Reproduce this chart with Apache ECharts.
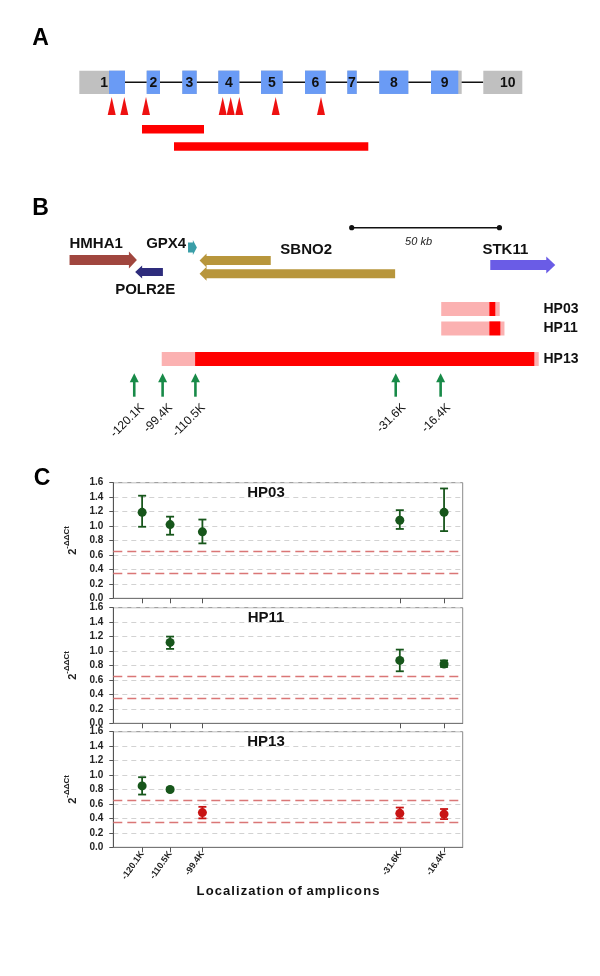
<!DOCTYPE html>
<html>
<head>
<meta charset="utf-8">
<script src="https://cdn.jsdelivr.net/npm/echarts@6/dist/echarts.min.js"></script>
<style>
html, body { margin: 0; padding: 0; background: #fff; }
#main { width: 600px; height: 976px; }
</style>
</head>
<body>
<div id="main"></div>
<script>
// ---- panel A: exon structure (relative units along the transcript) ----
var exonNames   = ['1', '2', '3', '4', '5', '6', '7', '8', '9', '10'];
var exonStart   = [39.3, 106.7, 142.3, 178.3, 221, 265, 307.3, 339.3, 391, 443.3];
var exonEnd     = [85, 120, 156.7, 199.3, 242.7, 285.7, 316.7, 368.3, 421.7, 482.3];
var codingStart = [69, 106.7, 142.3, 178.3, 221, 265, 307.3, 339.3, 391, null];
var codingEnd   = [85, 120, 156.7, 199.3, 242.7, 285.7, 316.7, 368.3, 418.3, null];
var mutationPos = [71.7, 84.3, 106, 182.7, 190.7, 199.3, 235.7, 281];
var deletionStart = [102, 134];
var deletionEnd   = [164, 328.3];

// ---- panel B: genomic region (kb relative to STK11) ----
var geneNames  = ['HMHA1', 'POLR2E', 'GPX4', 'SBNO2', 'SBNO2', 'STK11'];
var geneStart  = [-142.0, -119.8, -101.9, -98.0, -98.0, 0.4];
var geneEnd    = [-119.2, -110.4, -98.9, -73.9, -31.8, 22.4];
var geneStrand = ['+', '-', '+', '-', '-', '+'];
var hpNames      = ['HP03', 'HP11', 'HP13'];
var hpOuterStart = [-16.2, -16.2, -110.8];
var hpOuterEnd   = [3.6, 5.2, 16.8];
var hpCoreStart  = [0.1, 0.1, -99.5];
var hpCoreEnd    = [2.1, 3.8, 15.3];
var scaleBarKb   = [-46.5, 3.5];
var ampliconKb      = [-120.1, -110.5, -99.4, -31.6, -16.4];
var ampliconLabelsB = ['-120.1K', '-99.4K', '-110.5K', '-31.6K', '-16.4K'];
var ampliconLabelsC = ['-120.1K', '-110.5K', '-99.4K', '-31.6K', '-16.4K'];

// ---- panel C: 2^-ddCt per amplicon ----
var thresholds = [0.35, 0.65];
var hp03Mean = [1.19, 1.02, 0.92, 1.08, 1.19];
var hp03Lo   = [0.99, 0.88, 0.76, 0.96, 0.93];
var hp03Hi   = [1.42, 1.13, 1.09, 1.22, 1.52];
var hp11Mean = [null, 1.12, null, 0.87, 0.82];
var hp11Lo   = [null, 1.03, null, 0.72, 0.78];
var hp11Hi   = [null, 1.20, null, 1.02, 0.87];
var hp13Mean = [0.85, 0.80, 0.48, 0.47, 0.46];
var hp13Lo   = [0.73, 0.78, 0.40, 0.40, 0.39];
var hp13Hi   = [0.97, 0.82, 0.56, 0.55, 0.53];
var hp13Deleted = [false, false, true, true, true];

var FONT = '"Liberation Sans", Arial, sans-serif';
var GREEN = '#17561B', RED = '#C81414';
var geneColors = ['#A0463E', '#2E2C7C', '#3A9EA8', '#B8963C', '#B8963C', '#6A5CE6'];
// lane (px within grid) and arrow dimensions per gene
var geneLane = [70, 82, 57.5, 70.5, 83.8, 75];
var geneDims = [[10, 17, 8], [8, 13, 7], [10, 15, 4], [9, 14, 7], [9, 14, 7], [10, 17, 9]];
var geneLabels = [
  { text: 'HMHA1', kb: -133, lane: 54 },
  { text: 'GPX4', kb: -109.3, lane: 54 },
  { text: 'SBNO2', kb: -61.9, lane: 60 },
  { text: 'STK11', kb: 5.5, lane: 60 },
  { text: 'POLR2E', kb: -116.4, lane: 100 }
];
var hpLane = [119, 138.4, 168.9];

var chart = echarts.init(document.getElementById('main'));

function arrowPoints(xTail, xTip, yc, bh, hh, hl) {
  var d = xTip > xTail ? 1 : -1;
  var xn = xTip - d * hl;
  return [[xTail, yc - bh / 2], [xn, yc - bh / 2], [xn, yc - hh / 2], [xTip, yc],
          [xn, yc + hh / 2], [xn, yc + bh / 2], [xTail, yc + bh / 2]];
}

function renderExon(params, api) {
  var i = params.dataIndex;
  var yc = api.coord([0, 32.3])[1], h = 23.3;
  var x1 = api.coord([exonStart[i], 0])[0], x2 = api.coord([exonEnd[i], 0])[0];
  var kids = [{ type: 'rect', shape: { x: x1, y: yc - h / 2, width: x2 - x1, height: h }, style: { fill: '#C0C0C0' } }];
  var lx = (x1 + x2) / 2, align = 'center';
  if (codingStart[i] != null) {
    var c1 = api.coord([codingStart[i], 0])[0], c2 = api.coord([codingEnd[i], 0])[0];
    kids.push({ type: 'rect', shape: { x: c1, y: yc - h / 2, width: c2 - c1, height: h }, style: { fill: '#6A9BF5' } });
    if (codingStart[i] > exonStart[i]) { lx = c1 - 1; align = 'right'; }
    else lx = (c1 + c2) / 2;
  } else {
    lx = (x1 + x2) / 2 + 5;
  }
  kids.push({ type: 'text', x: lx, y: yc + 1, style: { text: exonNames[i], align: align, verticalAlign: 'middle', font: 'bold 14px ' + FONT, fill: '#111' } });
  return { type: 'group', children: kids };
}

function renderDeletion(params, api) {
  var i = params.dataIndex;
  var lanes = [79.2, 96.5];
  var yc = api.coord([0, lanes[i]])[1];
  var x1 = api.coord([deletionStart[i], 0])[0], x2 = api.coord([deletionEnd[i], 0])[0];
  return { type: 'rect', shape: { x: x1, y: yc - 4.2, width: x2 - x1, height: 8.4 }, style: { fill: '#FF0000' } };
}

function renderGene(params, api) {
  var i = params.dataIndex;
  var yc = api.coord([0, geneLane[i]])[1];
  var xs = api.coord([geneStart[i], 0])[0], xe = api.coord([geneEnd[i], 0])[0];
  var tail = geneStrand[i] === '+' ? xs : xe, tip = geneStrand[i] === '+' ? xe : xs;
  var d = geneDims[i];
  return { type: 'polygon', shape: { points: arrowPoints(tail, tip, yc, d[0], d[1], d[2]) }, style: { fill: geneColors[i] } };
}

function renderGeneLabel(params, api) {
  var g = geneLabels[params.dataIndex];
  var p = api.coord([g.kb, g.lane]);
  return { type: 'text', x: p[0], y: p[1], style: { text: g.text, align: 'center', verticalAlign: 'middle', font: 'bold 15px ' + FONT, fill: '#111' } };
}

function renderHp(params, api) {
  var i = params.dataIndex;
  var yc = api.coord([0, hpLane[i]])[1], h = 14;
  var o1 = api.coord([hpOuterStart[i], 0])[0], o2 = api.coord([hpOuterEnd[i], 0])[0];
  var c1 = api.coord([hpCoreStart[i], 0])[0], c2 = api.coord([hpCoreEnd[i], 0])[0];
  var lx = api.coord([18.4, 0])[0];
  return { type: 'group', children: [
    { type: 'rect', shape: { x: o1, y: yc - h / 2, width: o2 - o1, height: h }, style: { fill: '#FBB1B1' } },
    { type: 'rect', shape: { x: c1, y: yc - h / 2, width: c2 - c1, height: h }, style: { fill: '#FF0000' } },
    { type: 'text', x: lx, y: yc, style: { text: hpNames[i], align: 'left', verticalAlign: 'middle', font: 'bold 14px ' + FONT, fill: '#111' } }
  ] };
}

function renderAmplicon(params, api) {
  var i = params.dataIndex;
  var x = api.coord([ampliconKb[i], 0])[0];
  var yTip = api.coord([0, 183.3])[1], yBase = api.coord([0, 206.7])[1];
  var c = '#188A48';
  return { type: 'group', children: [
    { type: 'polygon', shape: { points: [[x, yTip], [x + 4.5, yTip + 9], [x - 4.5, yTip + 9]] }, style: { fill: c } },
    { type: 'rect', shape: { x: x - 1.3, y: yTip + 8, width: 2.6, height: yBase - yTip - 8 }, style: { fill: c } },
    { type: 'text', x: x + 8, y: yBase + 9, rotation: Math.PI / 4,
      style: { text: ampliconLabelsB[i], align: 'right', verticalAlign: 'middle', font: '12px ' + FONT, fill: '#111' } }
  ] };
}

function renderScaleBar(params, api) {
  var y = api.coord([0, 37.7])[1];
  var x1 = api.coord([scaleBarKb[0], 0])[0], x2 = api.coord([scaleBarKb[1], 0])[0];
  return { type: 'group', children: [
    { type: 'line', shape: { x1: x1, y1: y, x2: x2, y2: y }, style: { stroke: '#111', lineWidth: 1.5 } },
    { type: 'circle', shape: { cx: x1, cy: y, r: 2.6 }, style: { fill: '#111' } },
    { type: 'circle', shape: { cx: x2, cy: y, r: 2.6 }, style: { fill: '#111' } },
    { type: 'text', x: (x1 + x2) / 2 - 7, y: y + 14, style: { text: (scaleBarKb[1] - scaleBarKb[0]) + ' kb', align: 'center', verticalAlign: 'middle', font: 'italic 11px ' + FONT, fill: '#222' } }
  ] };
}

function buildRows(mean, lo, hi, del) {
  var out = [];
  for (var i = 0; i < ampliconKb.length; i++) {
    if (mean[i] == null) continue;
    out.push({ value: [ampliconKb[i], mean[i], lo[i], hi[i]], itemStyle: { color: del && del[i] ? RED : GREEN, opacity: 1 } });
  }
  return out;
}

function errorBarRenderer(rows) {
  return function (params, api) {
    var x = api.value(0);
    var pLo = api.coord([x, api.value(2)]), pHi = api.coord([x, api.value(3)]);
    var c = rows[params.dataIndex].itemStyle.color;
    var st = { stroke: c, lineWidth: 1.8 };
    return { type: 'group', children: [
      { type: 'line', shape: { x1: pLo[0], y1: pLo[1], x2: pHi[0], y2: pHi[1] }, style: st },
      { type: 'line', shape: { x1: pLo[0] - 4, y1: pLo[1], x2: pLo[0] + 4, y2: pLo[1] }, style: st },
      { type: 'line', shape: { x1: pHi[0] - 4, y1: pHi[1], x2: pHi[0] + 4, y2: pHi[1] }, style: st }
    ] };
  };
}

var panels = [
  { name: 'HP03', rows: buildRows(hp03Mean, hp03Lo, hp03Hi, null), top: 482.7 },
  { name: 'HP11', rows: buildRows(hp11Mean, hp11Lo, hp11Hi, null), top: 607.7 },
  { name: 'HP13', rows: buildRows(hp13Mean, hp13Lo, hp13Hi, hp13Deleted), top: 731.7 }
];
var plotH = 115.6;

var grids = [
  { left: 40, width: 520, top: 50, height: 110 },
  { left: 40, width: 520, top: 190, height: 250 }
];
var xAxes = [
  { gridIndex: 0, type: 'value', min: 0, max: 520, show: false },
  { gridIndex: 1, type: 'value', min: -152, max: 24, show: false }
];
var yAxes = [
  { gridIndex: 0, type: 'value', min: 0, max: 110, inverse: true, show: false },
  { gridIndex: 1, type: 'value', min: 0, max: 250, inverse: true, show: false }
];

var series = [
  { type: 'custom', xAxisIndex: 0, yAxisIndex: 0, silent: true, data: [[0]],
    renderItem: function (params, api) {
      var y = api.coord([0, 32.3])[1];
      return { type: 'line', shape: { x1: api.coord([exonEnd[0], 0])[0], y1: y, x2: api.coord([exonStart[exonStart.length - 1], 0])[0], y2: y }, style: { stroke: '#111', lineWidth: 1.5 } };
    } },
  { type: 'custom', xAxisIndex: 0, yAxisIndex: 0, silent: true, data: exonNames.map(function (n, i) { return [exonStart[i], exonEnd[i]]; }), renderItem: renderExon },
  { type: 'scatter', xAxisIndex: 0, yAxisIndex: 0, silent: true, symbol: 'triangle', symbolSize: [8, 18],
    itemStyle: { color: '#EE1111', opacity: 1 }, data: mutationPos.map(function (p) { return [p, 55.9]; }) },
  { type: 'custom', xAxisIndex: 0, yAxisIndex: 0, silent: true, data: deletionStart.map(function (s, i) { return [s, deletionEnd[i]]; }), renderItem: renderDeletion },
  { type: 'custom', xAxisIndex: 1, yAxisIndex: 1, silent: true, data: [scaleBarKb], renderItem: renderScaleBar },
  { type: 'custom', xAxisIndex: 1, yAxisIndex: 1, silent: true, data: geneNames.map(function (n, i) { return [geneStart[i], geneEnd[i]]; }), renderItem: renderGene },
  { type: 'custom', xAxisIndex: 1, yAxisIndex: 1, silent: true, data: geneLabels.map(function (g) { return [g.kb, g.lane]; }), renderItem: renderGeneLabel },
  { type: 'custom', xAxisIndex: 1, yAxisIndex: 1, silent: true, data: hpNames.map(function (n, i) { return [hpOuterStart[i], hpOuterEnd[i]]; }), renderItem: renderHp },
  { type: 'custom', xAxisIndex: 1, yAxisIndex: 1, silent: true, data: ampliconKb.map(function (k) { return [k]; }), renderItem: renderAmplicon }
];

var graphics = [
  { type: 'text', x: 40.5, y: 39, style: { text: 'A', font: 'bold 23px ' + FONT, fill: '#000', align: 'center', verticalAlign: 'middle' } },
  { type: 'text', x: 40.5, y: 209, style: { text: 'B', font: 'bold 23px ' + FONT, fill: '#000', align: 'center', verticalAlign: 'middle' } },
  { type: 'text', x: 42, y: 479, style: { text: 'C', font: 'bold 23px ' + FONT, fill: '#000', align: 'center', verticalAlign: 'middle' } }
];

panels.forEach(function (p, k) {
  var gi = k + 2, last = k === panels.length - 1;
  grids.push({ left: 113.3, right: 137.3, top: p.top, height: plotH, show: true, borderColor: '#8a8a8a', borderWidth: 1 });
  xAxes.push({
    gridIndex: gi, type: 'value', min: -130, max: -10,
    splitLine: { show: false },
    axisLine: { show: true, lineStyle: { color: '#777' } },
    axisTick: { show: true, customValues: ampliconKb, length: 5, lineStyle: { color: '#555' } },
    axisLabel: {
      show: last, customValues: ampliconKb, rotate: 55, margin: 5,
      fontSize: 9, fontWeight: 'bold', color: '#222', fontFamily: FONT,
      formatter: function (v) { return ampliconLabelsC[ampliconKb.indexOf(v)] || ''; }
    },
    name: last ? 'L\u200Ao\u200Ac\u200Aa\u200Al\u200Ai\u200Az\u200Aa\u200At\u200Ai\u200Ao\u200An \u200Ao\u200Af \u200Aa\u200Am\u200Ap\u200Al\u200Ai\u200Ac\u200Ao\u200An\u200As' : '',
    nameLocation: 'middle', nameGap: 31,
    nameTextStyle: { fontSize: 13, fontWeight: 'bold', color: '#111', fontFamily: FONT }
  });
  yAxes.push({
    gridIndex: gi, type: 'value', min: 0, max: 1.6, interval: 0.2,
    axisLine: { show: true, lineStyle: { color: '#555' } },
    axisTick: { show: true, length: 4, lineStyle: { color: '#555' } },
    axisLabel: { fontSize: 10, fontWeight: 'bold', color: '#222', fontFamily: FONT, margin: 10,
      formatter: function (v) { return v.toFixed(1); } },
    splitLine: { show: true, lineStyle: { color: '#d2d2d2', type: [5, 4] } },
    name: '{a|2}{b|-\u0394\u0394Ct}', nameLocation: 'middle', nameRotate: 90, nameGap: 33,
    nameTextStyle: { rich: {
      a: { fontSize: 11, fontWeight: 'bold', color: '#222', fontFamily: FONT, verticalAlign: 'bottom', lineHeight: 16 },
      b: { fontSize: 8, fontWeight: 'bold', color: '#222', fontFamily: FONT, verticalAlign: 'top', lineHeight: 10 }
    } }
  });
  series.push({
    type: 'custom', xAxisIndex: gi, yAxisIndex: gi, silent: true, z: 3,
    data: p.rows, renderItem: errorBarRenderer(p.rows),
    markLine: { silent: true, symbol: 'none', label: { show: false },
      lineStyle: { color: '#DA7676', type: [9, 5], width: 1.3 },
      data: thresholds.map(function (t) { return { yAxis: t }; }) }
  });
  series.push({
    type: 'scatter', xAxisIndex: gi, yAxisIndex: gi, silent: true, z: 4,
    symbol: 'circle', symbolSize: 9, itemStyle: { opacity: 1 }, data: p.rows
  });
  graphics.push({ type: 'text', x: 266, y: p.top + 10.5,
    style: { text: p.name, font: 'bold 15px ' + FONT, fill: '#111', align: 'center', verticalAlign: 'middle' } });
});

chart.setOption({
  backgroundColor: '#fff',
  animation: false,
  textStyle: { fontFamily: FONT },
  grid: grids,
  xAxis: xAxes,
  yAxis: yAxes,
  graphic: graphics,
  series: series
});
</script>
</body>
</html>
